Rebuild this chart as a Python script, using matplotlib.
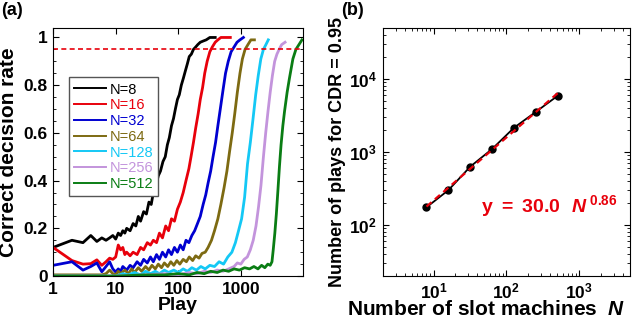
import matplotlib
matplotlib.use("Agg")
import matplotlib.pyplot as plt
from matplotlib.ticker import MultipleLocator

plt.rcParams['font.family'] = ['Liberation Sans', 'DejaVu Sans']
plt.rcParams['mathtext.fontset'] = 'custom'
plt.rcParams['mathtext.rm'] = 'Liberation Sans:bold'
plt.rcParams['mathtext.bf'] = 'Liberation Sans:bold'
plt.rcParams['mathtext.bfit'] = 'Liberation Sans:bold:italic'
plt.rcParams['mathtext.it'] = 'Liberation Sans:bold:italic'

# ---- panel (a): correct decision rate vs play ----
play8 = [1, 2, 3, 4, 5, 6, 7, 8, 9, 10, 11, 12, 13, 14, 15, 17, 19, 21, 23, 25,
         28, 31, 34, 37, 40, 44, 48, 52, 57, 62, 67, 72, 78, 84, 90, 97, 104, 112,
         121, 130, 140, 150, 162, 175, 190, 205, 225, 250, 280, 320, 350, 390]
rate8 = [0.12, 0.15, 0.14, 0.17, 0.145, 0.16, 0.15, 0.16, 0.17, 0.155, 0.18, 0.17,
         0.19, 0.18, 0.2, 0.19, 0.22, 0.21, 0.25, 0.23, 0.27, 0.26, 0.31, 0.3, 0.35,
         0.38, 0.42, 0.44, 0.48, 0.5, 0.55, 0.58, 0.63, 0.66, 0.7, 0.74, 0.76, 0.8,
         0.83, 0.86, 0.89, 0.92, 0.93, 0.95, 0.96, 0.97, 0.98, 0.985, 0.99, 1.0, 1.0, 1.0]

play16 = [1, 2, 3, 4, 5, 6, 7, 8, 9, 10, 11, 12, 13, 14, 15, 17, 19, 22, 25, 28,
          32, 36, 40, 45, 50, 56, 63, 70, 78, 87, 97, 108, 120, 133, 148, 160, 175,
          190, 208, 225, 245, 265, 290, 320, 350, 390, 430, 480, 540, 600, 680]
rate16 = [0.12, 0.065, 0.05, 0.052, 0.068, 0.045, 0.06, 0.075, 0.07, 0.08, 0.13, 0.11,
          0.12, 0.09, 0.1, 0.085, 0.1, 0.09, 0.12, 0.11, 0.14, 0.13, 0.15, 0.14, 0.18,
          0.16, 0.21, 0.19, 0.24, 0.23, 0.28, 0.31, 0.35, 0.4, 0.45, 0.5, 0.56, 0.62,
          0.68, 0.74, 0.79, 0.85, 0.9, 0.94, 0.96, 0.98, 0.99, 1.0, 1.0, 1.0, 1.0]

play32 = [1, 2, 3, 4, 5, 6, 7, 8, 9, 10, 11, 12, 13, 15, 17, 19, 22, 25, 28, 32,
          36, 40, 45, 50, 56, 63, 70, 78, 87, 97, 108, 120, 133, 148, 165, 183, 203,
          225, 250, 275, 300, 330, 360, 395, 430, 470, 520, 570, 630, 700, 780, 870,
          970, 1100]
rate32 = [0.045, 0.06, 0.025, 0.04, 0.055, 0.018, 0.04, 0.06, 0.03, 0.017, 0.03, 0.02,
          0.04, 0.025, 0.045, 0.035, 0.06, 0.045, 0.07, 0.055, 0.08, 0.06, 0.09, 0.07,
          0.1, 0.08, 0.11, 0.09, 0.12, 0.1, 0.13, 0.11, 0.15, 0.14, 0.17, 0.19, 0.22,
          0.25, 0.3, 0.34, 0.39, 0.44, 0.5, 0.56, 0.63, 0.7, 0.78, 0.85, 0.9, 0.94,
          0.96, 0.98, 0.99, 1.0]

play64 = [1, 2, 3, 4, 5, 6, 7, 8, 9, 10, 11, 12, 14, 16, 18, 20, 23, 26, 30, 34,
          38, 43, 48, 54, 60, 68, 76, 85, 95, 106, 120, 135, 150, 170, 190, 215, 240,
          270, 300, 340, 380, 430, 480, 540, 600, 660, 730, 800, 880, 970, 1060, 1170,
          1300, 1450, 1650]
rate64 = [0.005, 0.005, 0.005, 0.005, 0.005, 0.005, 0.01, 0.025, 0.01, 0.005, 0.02,
          0.01, 0.025, 0.01, 0.03, 0.015, 0.035, 0.02, 0.04, 0.025, 0.045, 0.03, 0.05,
          0.035, 0.055, 0.04, 0.06, 0.045, 0.065, 0.05, 0.07, 0.06, 0.08, 0.065, 0.085,
          0.075, 0.095, 0.1, 0.12, 0.15, 0.19, 0.24, 0.3, 0.37, 0.44, 0.52, 0.6, 0.68,
          0.77, 0.85, 0.91, 0.95, 0.97, 0.99, 0.99]

play128 = [1, 3, 10, 13, 16, 20, 25, 30, 36, 43, 50, 60, 70, 85, 100, 120, 140, 165,
           195, 230, 270, 320, 380, 450, 530, 620, 720, 820, 920, 1030, 1150, 1280,
           1420, 1570, 1730, 1900, 2090, 2300, 2520, 2750]
rate128 = [0, 0, 0, 0.01, 0.005, 0.015, 0.005, 0.02, 0.01, 0.02, 0.01, 0.025, 0.015,
           0.025, 0.015, 0.03, 0.02, 0.035, 0.025, 0.04, 0.03, 0.045, 0.04, 0.06, 0.05,
           0.08, 0.1, 0.14, 0.19, 0.24, 0.33, 0.47, 0.56, 0.66, 0.76, 0.84, 0.91, 0.95,
           0.97, 0.99]

play256 = [1, 10, 30, 60, 100, 150, 200, 260, 330, 420, 520, 640, 780, 880, 1000,
           1130, 1270, 1420, 1580, 1750, 1920, 2100, 2300, 2500, 2720, 2950, 3200,
           3480, 3780, 4100, 4500, 5100]
rate256 = [0, 0, 0.005, 0.01, 0.005, 0.015, 0.01, 0.02, 0.015, 0.025, 0.02, 0.03, 0.04,
           0.055, 0.05, 0.07, 0.08, 0.11, 0.15, 0.21, 0.29, 0.38, 0.5, 0.6, 0.69, 0.77,
           0.84, 0.9, 0.93, 0.95, 0.97, 0.98]

play512 = [1, 10, 30, 60, 100, 150, 200, 260, 330, 420, 520, 640, 780, 950, 1150,
           1380, 1620, 1880, 2150, 2420, 2700, 2950, 3150, 3300, 3500, 3700, 3900,
           4150, 4400, 4700, 5000, 5500, 6000, 6800, 7600, 8500, 9500]
rate512 = [0, 0, 0.005, 0.005, 0.01, 0.005, 0.015, 0.01, 0.02, 0.015, 0.025, 0.02,
           0.03, 0.025, 0.035, 0.03, 0.04, 0.03, 0.045, 0.035, 0.05, 0.045, 0.06, 0.11,
           0.18, 0.26, 0.35, 0.46, 0.55, 0.63, 0.69, 0.77, 0.83, 0.91, 0.95, 0.97, 0.99]

labels = ['N=8', 'N=16', 'N=32', 'N=64', 'N=128', 'N=256', 'N=512']
colors = ['black', '#e8000b', '#0000d0', '#7d6a12', '#14c8f5', '#c394dc', '#0a7d14']
threshold = 0.95

# ---- panel (b): plays needed for CDR = 0.95 ----
n_slots = [8, 16, 32, 64, 128, 256, 512]
plays_needed = [175, 300, 630, 1100, 2150, 3550, 5900]
fit_n = [8, 512]
fit_plays = [179, 6410]   # y = 30.0 N^0.86 at both ends

fig = plt.figure(figsize=(6.4, 3.21), dpi=100)
ax1 = fig.add_axes([0.083, 0.140, 0.391, 0.773])
ax2 = fig.add_axes([0.598, 0.140, 0.386, 0.773])

curves = [(play8, rate8), (play16, rate16), (play32, rate32), (play64, rate64),
          (play128, rate128), (play256, rate256), (play512, rate512)]
for (px, py), c, lab in zip(curves, colors, labels):
    ax1.plot(px, py, color=c, lw=2.0, label=lab)
ax1.axhline(threshold, color='#e8000b', lw=1.2, ls=(0, (3, 2)))

ax1.set_xscale('log')
ax1.set_xlim(1, 10000)
ax1.set_ylim(0, 1.04)
ax1.set_xticks([1, 10, 100, 1000])
ax1.set_xticklabels(['1', '10', '100', '1000'])
ax1.set_yticks([0, 0.2, 0.4, 0.6, 0.8, 1])
ax1.set_yticklabels(['0', '0.2', '0.4', '0.6', '0.8', '1'])
ax1.yaxis.set_minor_locator(MultipleLocator(0.05))
ax1.set_xlabel('Play', fontsize=14, fontweight='bold', labelpad=0)
ax1.set_ylabel('Correct decision rate', fontsize=15, fontweight='bold', labelpad=4)

leg = ax1.legend(loc='upper left', bbox_to_anchor=(0.035, 0.83), fontsize=10.5,
                 handlelength=2.2, handletextpad=0.2, labelspacing=0.12,
                 borderpad=0.35, fancybox=False, framealpha=1, edgecolor='#555555')
for line in leg.get_lines():
    line.set_linewidth(1.4)
for txt, c in zip(leg.get_texts(), colors):
    txt.set_color(c)

ax2.plot(n_slots, plays_needed, color='black', lw=1.3, marker='o', ms=5)
ax2.plot(fit_n, fit_plays, color='#e8000b', lw=1.6, ls=(0, (3, 2)))
ax2.set_xscale('log')
ax2.set_yscale('log')
ax2.set_xlim(2, 5000)
ax2.set_ylim(20, 50000)
ax2.text(45, 150, r'$\mathrm{y\ =\ 30.0\ \ }\mathbfit{N}^{\ \mathrm{0.86}}$',
         color='#e8000b', fontsize=14)
ax2.set_xlabel(r'Number of slot machines  $\mathbfit{N}$', fontsize=15,
               fontweight='bold')
ax2.xaxis.set_label_coords(0.42, -0.095)
ax2.set_ylabel('Number of plays for CDR = 0.95', fontsize=13, fontweight='bold',
               labelpad=2)

for ax in (ax1, ax2):
    ax.tick_params(which='both', direction='in', top=True, right=True)
    ax.tick_params(which='major', length=4, width=0.8, labelsize=12.5, pad=4)
    ax.tick_params(which='minor', length=2, width=0.6)
    for lab in ax.get_xticklabels() + ax.get_yticklabels():
        lab.set_fontweight('bold')
    for sp in ax.spines.values():
        sp.set_linewidth(0.8)

fig.text(0.002, 0.995, '(a)', fontsize=13, fontweight='bold', va='top')
fig.text(0.533, 0.995, '(b)', fontsize=13, fontweight='bold', va='top')

fig.savefig('out.png', dpi=100)
